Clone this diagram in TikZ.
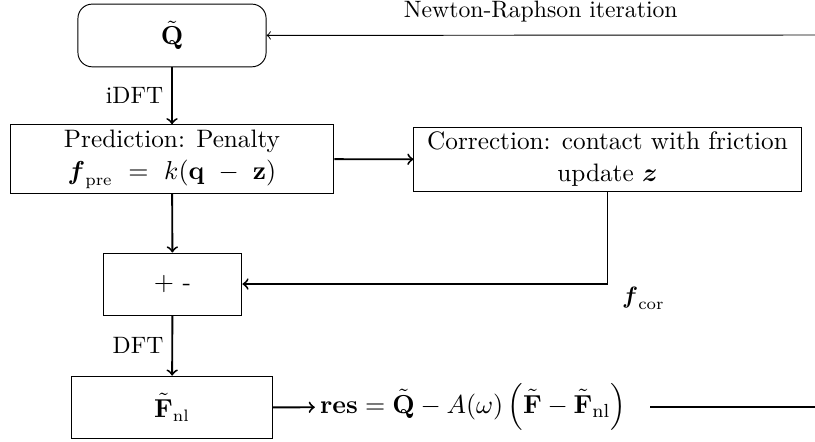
\documentclass[tikz,border=0pt]{standalone}
\usepackage{amsmath, amssymb, amsfonts}
\usepackage{tikz}

\begin{document}
\begin{tikzpicture}[
    >=to,
    block/.style={
        rectangle,
        draw,
        align=center,
        inner sep=2pt,
        font=\fontsize{10.65pt}{13.5pt}\selectfont
    },
    roundblock/.style={
        rectangle,
        rounded corners=6pt,
        draw,
        align=center,
        font=\fontsize{11pt}{13.5pt}\selectfont
    },
    flow/.style={
        ->,
        thick
    }
]
    \useasboundingbox (0,0) rectangle (12.086,6.54);

    % Blocks
    \node[roundblock, minimum width=2.79cm, minimum height=0.93cm] (Q) at (2.551,6.014)
        {$\tilde{\mathbf{Q}}$};

    \node[block, minimum width=4.80cm, minimum height=0.98cm] (Pred) at (2.551,4.182)
        {Prediction: Penalty\\
         $\boldsymbol{f}_{\mathrm{pre}}~=~k(\mathbf{q}~-~\mathbf{z})$};

    \node[block, minimum width=5.74cm, minimum height=0.93cm] (Corr) at (9.009,4.175)
        {Correction: contact with friction\\update $\boldsymbol{z}$};

    \node[block, minimum width=2.06cm, minimum height=0.92cm] (PM) at (2.558,2.328)
        {$+$ -};

    \node[block, minimum width=2.97cm, minimum height=0.93cm] (Fnl) at (2.551,0.497)
        {$\tilde{\mathbf{F}}_{\mathrm{nl}}$};

    \node[inner sep=2pt, font=\fontsize{11pt}{13.5pt}\selectfont] (Res) at (7.015,0.504)
        {$\mathbf{res} = \tilde{\mathbf{Q}} - A(\omega)\,\Bigl(\tilde{\mathbf{F}} - \tilde{\mathbf{F}}_{\mathrm{nl}}\Bigr)$};

    % Free ends
    \coordinate (NR) at (12.086,6.021);
    \coordinate (ResEnd) at (12.086,0.504);
    \coordinate (Corner) at (Corr.south |- PM.east);

    % Connections
    \draw[flow] (Q) -- node[left] {iDFT} (Pred);
    \draw[flow] (Pred) -- (Corr);
    \draw[flow] (Pred) -- (PM);
    \draw[thick] (Corr.south) -- (Corner);
    \draw[flow] (Corner) -- (PM);
    \draw[flow] (PM) -- node[left] {DFT} (Fnl);
    \draw[flow] (Fnl) -- (Res);
    \draw[thick, shorten <=8pt] (Res.east) -- (ResEnd);
    \draw[->] (NR) -- node[above, yshift=2pt] {Newton-Raphson iteration} (Q);

    % Labels
    \node[anchor=north west, inner sep=0pt, xshift=6pt, yshift=-1pt] at (Corner)
        {$\boldsymbol{f}_{\mathrm{cor}}$};

\end{tikzpicture}
\end{document}
